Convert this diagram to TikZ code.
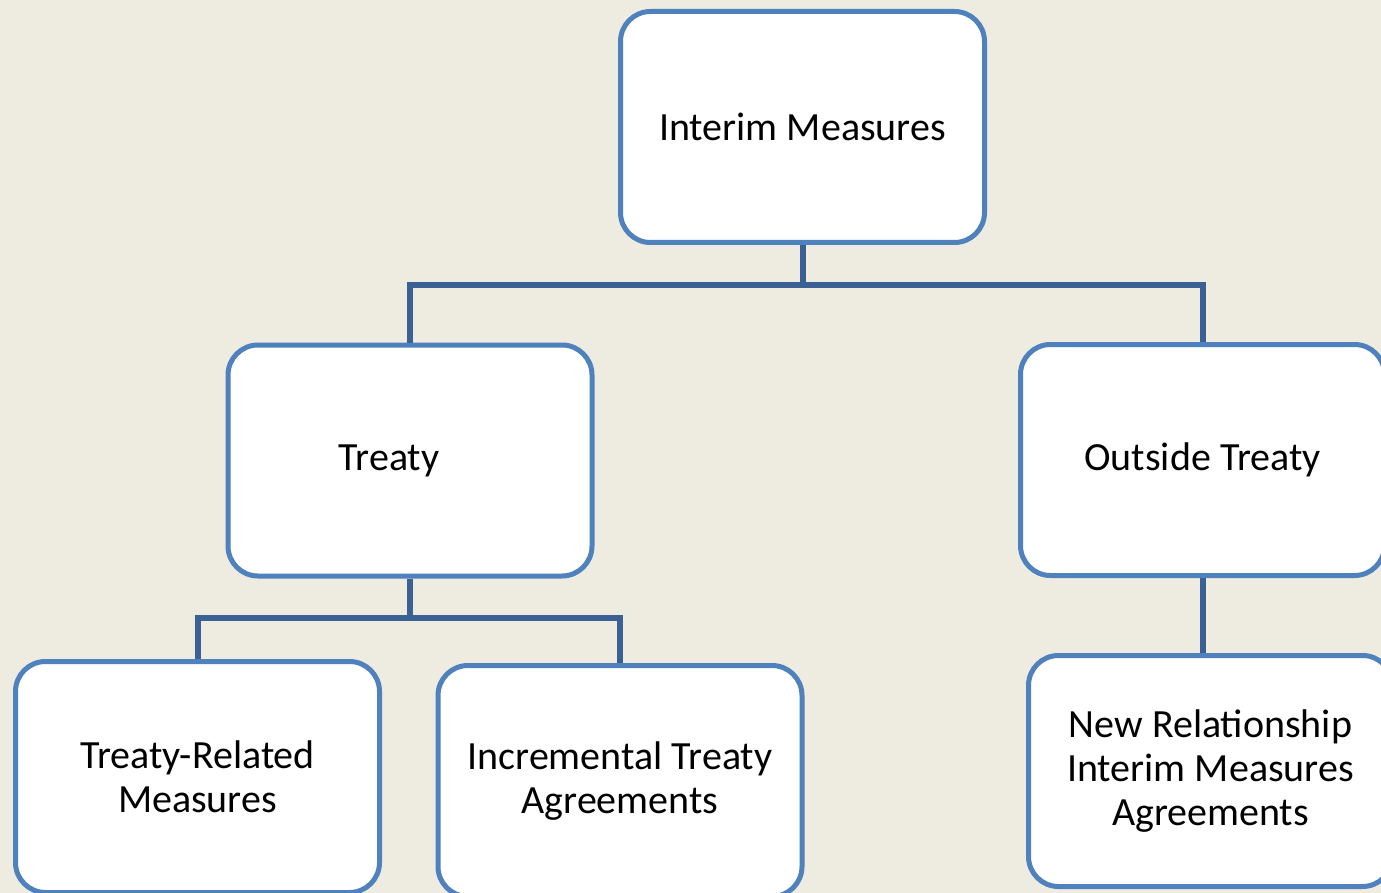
\documentclass[tikz,border=0pt]{standalone}
\usepackage{fontspec}
\setmainfont{Carlito}
\usetikzlibrary{calc}

\definecolor{boxline}{HTML}{4F81BD}
\definecolor{linkline}{HTML}{3A6094}
\definecolor{paper}{HTML}{EEEBE0}

\tikzset{
  box/.style={draw=boxline, fill=white, line width=5pt, rounded corners=30pt,
              minimum width=364pt, minimum height=231pt, inner sep=0pt,
              align=center, font=\fontsize{40}{44}\selectfont},
  link/.style={draw=linkline, line width=6pt}
}

\begin{document}
\begin{tikzpicture}[x=1pt,y=-1pt]
\fill[paper] (0,0) rectangle (1381,893);
\useasboundingbox (0,0) rectangle (1381,893);

\node[box] (im) at (802.5,127) {Interim Measures};
\node[box] (treaty) at (410,460.5) {Treaty\hspace*{42pt}};
\node[box] (outside) at (1202.5,460) {Outside Treaty};
\node[box] (trm) at (197.5,777) {Treaty-Related\\Measures};
\node[box] (ita) at (620,781) {Incremental Treaty\\Agreements};
\node[box] (nrim) at (1210.5,771) {New Relationship\\Interim Measures\\Agreements};

\coordinate (j1) at ($(im.south)+(0,40)$);
\coordinate (j2) at ($(treaty.south)+(0,39)$);
\draw[link] (im.south) -- (j1);
\draw[link] (treaty.north) |- (j1) -| (outside.north);
\draw[link] (treaty.south) -- (j2);
\draw[link] (trm.north) |- (j2) -| (ita.north);
\draw[link] (outside.south) -- (outside.south |- nrim.north);
\end{tikzpicture}
\end{document}
